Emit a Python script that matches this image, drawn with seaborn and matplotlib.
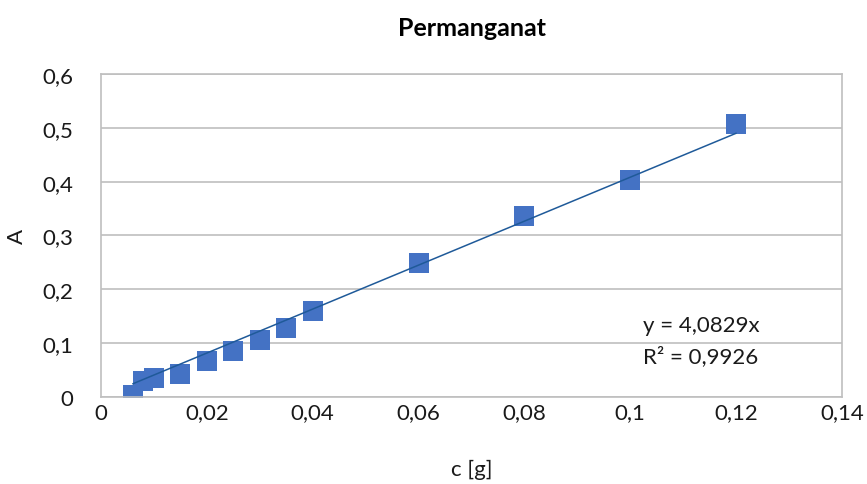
import numpy as np
import pandas as pd
import matplotlib
matplotlib.use("Agg")
import matplotlib.pyplot as plt
import matplotlib.ticker as ticker
import seaborn as sns

# --- Data ---
conc = [0.006, 0.008, 0.010, 0.015, 0.020, 0.025, 0.030, 0.035, 0.040, 0.060, 0.080, 0.100, 0.120]
absorb = [0.004, 0.030, 0.035, 0.043, 0.067, 0.086, 0.106, 0.128, 0.160, 0.249, 0.336, 0.403, 0.507]
slope = 4.0829
r2 = 0.9926
x_ticks = [0, 0.02, 0.04, 0.06, 0.08, 0.1, 0.12, 0.14]
y_ticks = [0, 0.1, 0.2, 0.3, 0.4, 0.5, 0.6]

# --- Style ---
sns.set_theme(style="white")
plt.rcParams['font.family'] = ['Lato', 'DejaVu Sans']

GRID = '#BFBFBF'
MARKER = '#4472C4'
LINE = '#1F5A99'
TEXT = '#1a1a1a'
FS = 16


def comma_fmt(v, pos):
    s = f'{v:.2f}'.rstrip('0').rstrip('.')
    return s.replace('.', ',')


df = pd.DataFrame({'c': conc, 'A': absorb})

fig = plt.figure(figsize=(8.67, 4.85), dpi=100)
ax = fig.add_axes([0.1165, 0.1794, 0.9712 - 0.1165, 0.8454 - 0.1794])

ax.yaxis.grid(True, color=GRID, linewidth=1.2)
ax.set_axisbelow(True)

sns.scatterplot(data=df, x='c', y='A', marker='s', s=210, color=MARKER,
                edgecolor=MARKER, linewidth=0, ax=ax, zorder=2)

# linear trendline through origin
xl = np.array([min(conc), max(conc)])
ax.plot(xl, slope * xl, color=LINE, linewidth=1.1, zorder=3)

ax.set_xlim(0, 0.14)
ax.set_ylim(0, 0.6)
ax.set_xticks(x_ticks)
ax.set_yticks(y_ticks)
ax.xaxis.set_major_formatter(ticker.FuncFormatter(comma_fmt))
ax.yaxis.set_major_formatter(ticker.FuncFormatter(comma_fmt))
ax.tick_params(axis='both', labelsize=FS, length=0, colors=TEXT)
ax.tick_params(axis='y', pad=20)
ax.tick_params(axis='x', pad=4)

for sp in ax.spines.values():
    sp.set_color(GRID)
    sp.set_linewidth(1.2)

ax.set_xlabel('c [g]', fontsize=FS, color=TEXT, labelpad=26)
ax.set_ylabel('A', fontsize=FS, color=TEXT, labelpad=11)
ax.set_title('Permanganat', fontsize=18, fontweight='bold', color='black', pad=28)

eq = f'y = {slope:.4f}x'.replace('.', ',')
rr = f'R² = {r2:.4f}'.replace('.', ',')
ax.text(0.1024, 0.133, eq, fontsize=FS, color=TEXT, va='center', ha='left')
ax.text(0.1024, 0.077, rr, fontsize=FS, color=TEXT, va='center', ha='left')

fig.savefig('out.png', dpi=100)
